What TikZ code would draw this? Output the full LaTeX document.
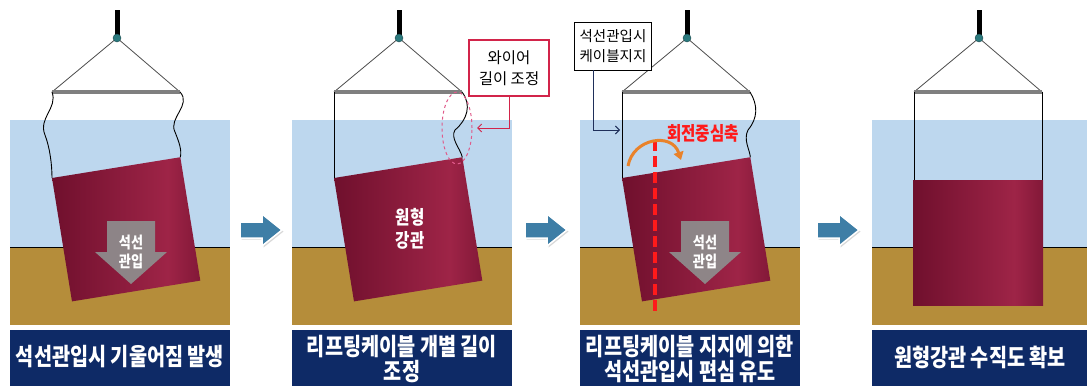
\documentclass[tikz,border=0pt]{standalone}
\usepackage{fontspec}
\setmainfont{Noto Sans CJK KR}
\newfontfamily\capfont[FakeStretch=0.82]{Noto Sans CJK KR}
\usetikzlibrary{arrows.meta,shadows}
\usepackage{xcolor}
\definecolor{waterblue}{HTML}{BDD7EE}
\definecolor{soilbrown}{HTML}{B58D3A}
\definecolor{capnavy}{HTML}{0E2A66}
\definecolor{pipedark}{HTML}{6C0E2B}
\definecolor{pipelight}{HTML}{9E2447}
\definecolor{flowblue}{HTML}{3E7EA6}
\definecolor{pushgray}{HTML}{8E8E8E}
\definecolor{bargray}{HTML}{7F7F7F}
\definecolor{hookteal}{HTML}{2B7A7E}
\definecolor{calloutred}{HTML}{D2244A}
\definecolor{ringpink}{HTML}{E05A8A}
\definecolor{axisred}{HTML}{FF1A1A}
\definecolor{turnorange}{HTML}{E9822A}
\definecolor{leadernavy}{HTML}{1F2F5A}

\pgfdeclarehorizontalshading{pipeshade}{100bp}{color(0bp)=(pipedark!85!pipelight); color(22bp)=(pipedark); color(64bp)=(pipelight); color(80bp)=(pipedark!80!pipelight); color(100bp)=(pipedark)}

\begin{document}
\begin{tikzpicture}[x=1pt, y=-1pt,
  wire/.style={black, line width=0.9pt},
  sling/.style={black!70, line width=0.8pt},
  stepflow/.style={fill=flowblue, draw=white, line width=1.5pt,
    drop shadow={opacity=0.3, shadow xshift=1.5pt, shadow yshift=-1.5pt}},
  pushlabel/.style={white, font=\capfont\bfseries\fontsize{16}{19}\selectfont, align=center, inner sep=0pt},
  caption/.style={white, font=\capfont\bfseries\fontsize{24}{25}\selectfont, align=center, inner sep=0pt}]

  \useasboundingbox (0,0) rectangle (1087,386);
  \fill[white] (0,0) rectangle (1087,386);

  % Water, soil and caption strips
  \foreach \px/\pw in {10/220, 292/220, 580/220, 872/215} {
    \fill[waterblue] (\px,120) rectangle ++(\pw,127);
    \fill[soilbrown] (\px,247) rectangle ++(\pw,78);
    \draw[black, line width=0.8pt] (\px,247) -- ++(\pw,0);
    \fill[capnavy] (\px,330) rectangle ++(\pw,56);
  }

  % Panel 1: tilted pipe
  \begin{scope}[shift={(52,178)}, rotate=9.2]
    \shade[shading=pipeshade] (0,0) rectangle (130,125);
    \coordinate (tlA) at (0,0);
    \coordinate (trA) at (130,0);
  \end{scope}

  % Panel 2: tilted pipe
  \begin{scope}[shift={(334,178)}, rotate=9.2]
    \shade[shading=pipeshade] (0,0) rectangle (130,125);
    \coordinate (tlB) at (0,0);
    \coordinate (trB) at (130,0);
  \end{scope}

  % Panel 3: tilted pipe
  \begin{scope}[shift={(622,178)}, rotate=9.2]
    \shade[shading=pipeshade] (0,0) rectangle (130,125);
    \coordinate (tlC) at (0,0);
    \coordinate (trC) at (130,0);
  \end{scope}

  % Panel 4: upright pipe
  \shade[shading=pipeshade] (913,180) rectangle (1043,305);
  \coordinate (tlD) at (914,180);
  \coordinate (trD) at (1042,180);

  % Crane hook, slings and spreader bar
  \foreach \px/\tag in {10/A, 292/B, 580/C, 872/D} {
    \draw[line width=5pt] (\px+107,10) -- (\px+107,35);
    \coordinate (hook\tag) at (\px+107,38);
    \coordinate (barL\tag) at (\px+42,92);
    \coordinate (barR\tag) at (\px+170,92);
    \draw[sling] (barL\tag) -- (hook\tag) -- (barR\tag);
    \draw[bargray, line width=4pt] (barL\tag) -- (barR\tag);
    \filldraw[fill=hookteal, draw=hookteal!60!black] (hook\tag) circle (4pt);
  }

  % Lifting cables
  \draw[wire] (barLA) .. controls (58,108) and (38,118) .. (45,135)
    .. controls (50,148) and (52,165) .. (tlA);
  \draw[wire] (barRA) .. controls (192,105) and (168,118) .. (175,132)
    .. controls (179,142) and (182,150) .. (trA);
  \draw[wire] (barLB) -- (tlB);
  \draw[wire] (barRB) .. controls (472,105) and (467,120) .. (455,130)
    .. controls (450,138) and (460,148) .. (trB);
  \draw[wire] (barLC) -- (tlC);
  \draw[wire] (barRC) .. controls (758,105) and (758,118) .. (748,130)
    .. controls (743,140) and (750,150) .. (trC);
  \draw[wire] (barLD) -- (tlD);
  \draw[wire] (barRD) -- (trD);

  % Penetration arrows inside the pipe
  \foreach \ax/\tag in {131/A, 705/C} {
    \fill[pushgray, opacity=0.92] (\ax-24,221) -- (\ax+24,221) -- (\ax+24,252) -- (\ax+36,252)
      -- (\ax,284) -- (\ax-36,252) -- (\ax-24,252) -- cycle;
    \node[pushlabel] (push\tag) at (\ax,252) {석선\\관입};
  }

  % Pipe name
  \node[white, font=\capfont\bfseries\fontsize{19}{23}\selectfont, align=center, inner sep=0pt]
    (pipename) at (410,229) {원형\\강관};

  % Wire length adjustment callout
  \draw[ringpink, dashed, line width=1pt] (457,128) ellipse (15pt and 36pt);
  \node[draw=calloutred, fill=white, line width=1.2pt, align=center,
    minimum width=80pt, minimum height=56pt, inner sep=1pt,
    font=\fontsize{15.5}{21}\selectfont] (wirebox) at (509,68) {와이어\\길이 조정};
  \coordinate (wiretip) at (477,128);
  \draw[calloutred, line width=1pt, -{Straight Barb[length=4pt]}] (wirebox.south) |- (wiretip);

  % Cable support callout
  \node[draw=black, fill=white, line width=0.8pt, align=center,
    minimum width=77pt, minimum height=48pt, inner sep=1pt,
    font=\fontsize{14.5}{20}\selectfont] (supportbox) at (613,46) {석선관입시\\케이블지지};
  \coordinate (supporttip) at (620,130);
  \draw[leadernavy, line width=0.9pt, -{Straight Barb[length=4pt]}]
    ([xshift=-20pt]supportbox.south) |- (supporttip);

  % Rotation axis
  \draw[axisred, line width=4.5pt, dash pattern=on 11pt off 5pt] (655,140) -- (655,312);
  \draw[turnorange, line width=3pt, -{Triangle[length=8pt,width=10pt]}]
    (628,166) .. controls (633,138) and (672,132) .. (681,160);
  \node[axisred, font=\capfont\bfseries\fontsize{19}{22}\selectfont, inner sep=0pt] (axislabel) at (703,133) {회전중심축};

  % Step arrows
  \foreach \ax in {240, 525, 817} {
    \filldraw[stepflow] (\ax,222) -- ++(22,0) -- ++(0,-8) -- ++(20,16) -- ++(-20,16)
      -- ++(0,-8) -- ++(-22,0) -- cycle;
  }

  % Captions
  \node[caption] (capA) at (120,357) {석선관입시 기울어짐 발생};
  \node[caption] (capB) at (402,359) {리프팅케이블 개별 길이\\조정};
  \node[caption] (capC) at (690,359) {리프팅케이블 지지에 의한\\석선관입시 편심 유도};
  \node[caption] (capD) at (980,357) {원형강관 수직도 확보};

\end{tikzpicture}
\end{document}
